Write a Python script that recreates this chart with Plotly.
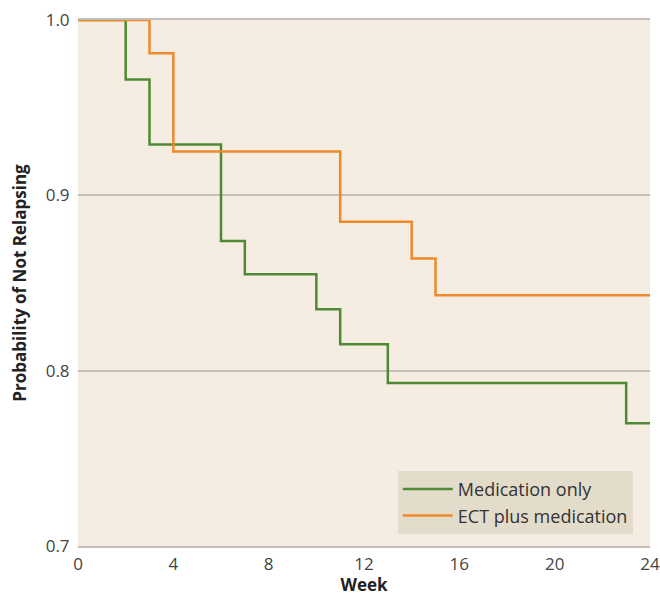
import plotly.graph_objects as go

weeks_med = [0, 2, 3, 6, 7, 10, 11, 13, 23, 24]
surv_med = [1.0, 0.966, 0.929, 0.874, 0.855, 0.835, 0.815, 0.793, 0.770, 0.770]

weeks_ect = [0, 3, 4, 11, 14, 15, 24]
surv_ect = [1.0, 0.981, 0.925, 0.885, 0.864, 0.843, 0.843]

x_ticks = [0, 4, 8, 12, 16, 20, 24]
y_ticks = [0.7, 0.8, 0.9, 1.0]

font_family = "'Open Sans', Lato, sans-serif"
grid = "#C5BEB6"

fig = go.Figure()
fig.add_trace(go.Scatter(x=weeks_med, y=surv_med, mode="lines", line_shape="hv",
                         line=dict(color="#4E8A35", width=2.5), name="Medication only"))
fig.add_trace(go.Scatter(x=weeks_ect, y=surv_ect, mode="lines", line_shape="hv",
                         line=dict(color="#F0892B", width=2.5), name="ECT plus medication"))

fig.update_layout(
    width=660, height=596,
    margin=dict(l=78, r=10, t=20, b=50),
    paper_bgcolor="white",
    plot_bgcolor="#F5EDE1",
    font=dict(family=font_family, size=17, color="#444444"),
    showlegend=True,
    legend=dict(x=0.970, y=0.023, xanchor="right", yanchor="bottom",
                bgcolor="#E3DCCB", font=dict(size=18, color="#333333"),
                borderwidth=0, tracegroupgap=2, itemwidth=50,
                entrywidth=236, entrywidthmode="pixels"),
    xaxis=dict(range=[0, 24], tickvals=x_ticks, showgrid=False, zeroline=False,
               showline=True, mirror=True, linecolor=grid, linewidth=1.5,
               ticks="outside", ticklen=2, tickcolor="rgba(0,0,0,0)", automargin=False,
               title=dict(text="<b>Week</b>", font=dict(size=17, color="#222222"), standoff=10),
               tickfont=dict(size=17, color="#444444")),
    yaxis=dict(range=[0.7, 1.0], tickvals=y_ticks, tickformat=".1f", showgrid=True,
               gridcolor=grid, gridwidth=1.5, zeroline=False, showline=False,
               ticks="outside", ticklen=4, tickcolor="rgba(0,0,0,0)", automargin=False,
               title=dict(text="<b>Probability of Not Relapsing</b>",
                          font=dict(size=17, color="#222222"), standoff=14),
               tickfont=dict(size=17, color="#444444")),
)

fig.write_html("out.html", config={"displayModeBar": False},
               post_script="document.body.style.margin='0';document.body.style.overflow='hidden';")
